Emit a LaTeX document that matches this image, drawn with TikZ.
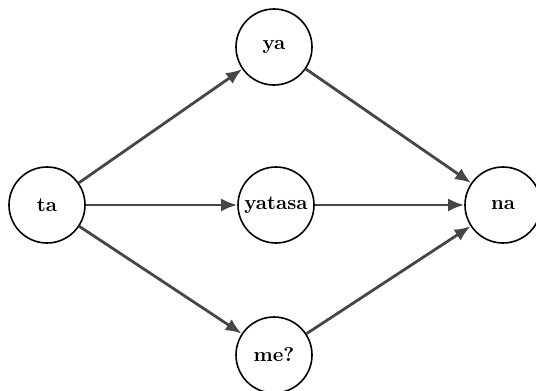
\documentclass[tikz,border=0pt]{standalone}
\usetikzlibrary{arrows.meta}
\begin{document}
\begin{tikzpicture}[x=0.5pt,y=-0.5pt,
  state/.style={circle,draw=black,line width=0.8pt,minimum size=38pt,inner sep=0pt,font=\bfseries},
  edge/.style={draw={rgb,255:red,70;green,70;blue,70},line width=1.4pt,-{Latex[length=8pt,width=6.5pt]}}]
\useasboundingbox (0,0) rectangle (536,391);
\node[state] (ta) at (47,205) {ta};
\node[state] (ya) at (274,47) {ya};
\node[state] (yatasa) at (276,205) {yatasa};
\node[state] (me) at (274,355) {me?};
\node[state] (na) at (503,205) {na};
\draw[edge] (ta) -- (ya);
\draw[edge] (ta) -- (yatasa);
\draw[edge] (ta) -- (me);
\draw[edge] (ya) -- (na);
\draw[edge] (yatasa) -- (na);
\draw[edge] (me) -- (na);
\end{tikzpicture}
\end{document}
